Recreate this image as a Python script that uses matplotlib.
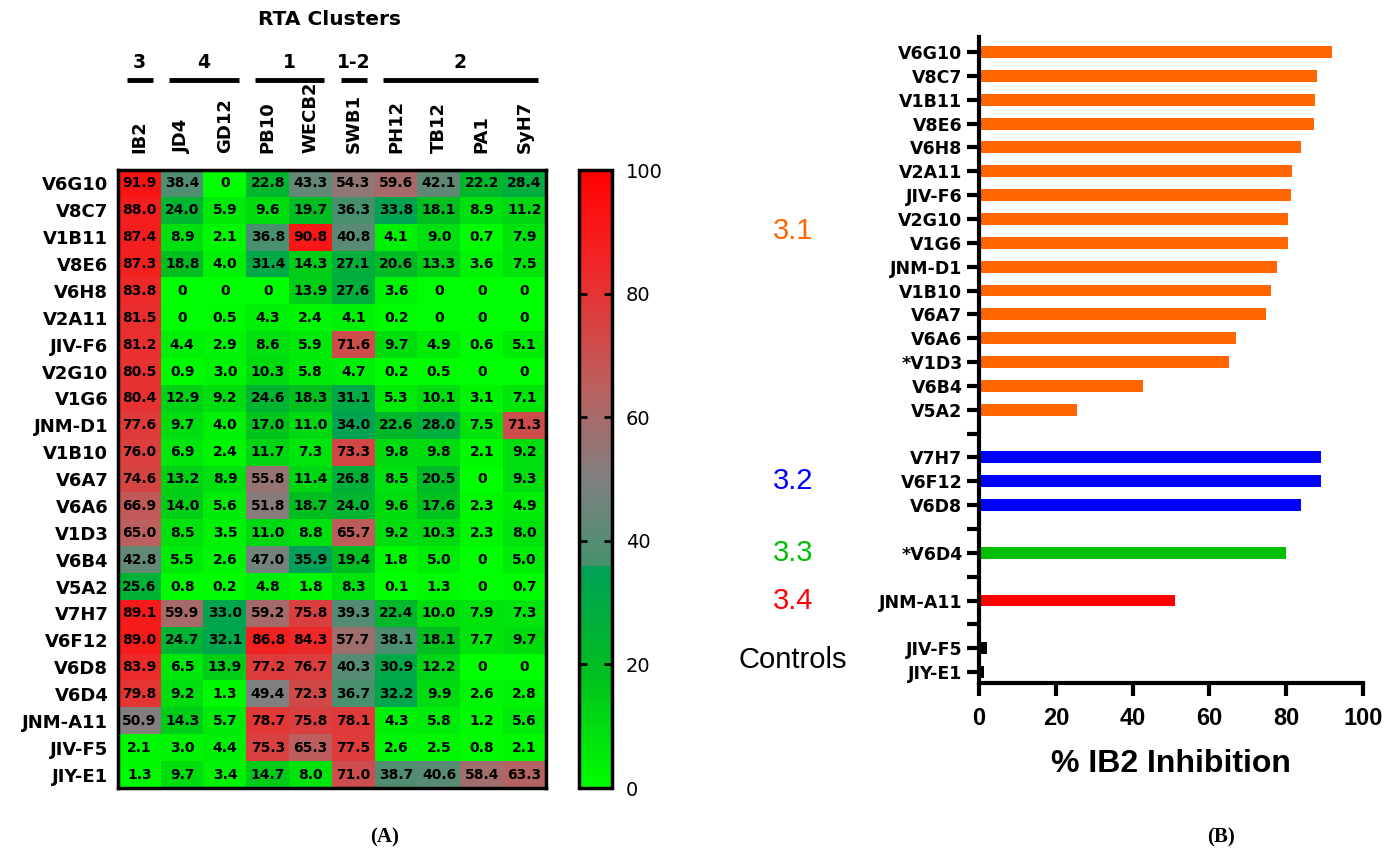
import numpy as np
import matplotlib.pyplot as plt
import matplotlib.transforms as mtransforms
from matplotlib.colors import LinearSegmentedColormap

# -------------------------------
# Datos
# -------------------------------
anticuerpos = ["V6G10", "V8C7", "V1B11", "V8E6", "V6H8", "V2A11", "JIV-F6",
               "V2G10", "V1G6", "JNM-D1", "V1B10", "V6A7", "V6A6", "V1D3",
               "V6B4", "V5A2", "V7H7", "V6F12", "V6D8", "V6D4", "JNM-A11",
               "JIV-F5", "JIY-E1"]
toxinas = ["IB2", "JD4", "GD12", "PB10", "WECB2", "SWB1", "PH12", "TB12", "PA1", "SyH7"]

# inhibicion (%) por fila
inhibicion = np.array([
    [91.9, 38.4, 0.0, 22.8, 43.3, 54.3, 59.6, 42.1, 22.2, 28.4],
    [88.0, 24.0, 5.9, 9.6, 19.7, 36.3, 33.8, 18.1, 8.9, 11.2],
    [87.4, 8.9, 2.1, 36.8, 90.8, 40.8, 4.1, 9.0, 0.7, 7.9],
    [87.3, 18.8, 4.0, 31.4, 14.3, 27.1, 20.6, 13.3, 3.6, 7.5],
    [83.8, 0.0, 0.0, 0.0, 13.9, 27.6, 3.6, 0.0, 0.0, 0.0],
    [81.5, 0.0, 0.5, 4.3, 2.4, 4.1, 0.2, 0.0, 0.0, 0.0],
    [81.2, 4.4, 2.9, 8.6, 5.9, 71.6, 9.7, 4.9, 0.6, 5.1],
    [80.5, 0.9, 3.0, 10.3, 5.8, 4.7, 0.2, 0.5, 0.0, 0.0],
    [80.4, 12.9, 9.2, 24.6, 18.3, 31.1, 5.3, 10.1, 3.1, 7.1],
    [77.6, 9.7, 4.0, 17.0, 11.0, 34.0, 22.6, 28.0, 7.5, 71.3],
    [76.0, 6.9, 2.4, 11.7, 7.3, 73.3, 9.8, 9.8, 2.1, 9.2],
    [74.6, 13.2, 8.9, 55.8, 11.4, 26.8, 8.5, 20.5, 0.0, 9.3],
    [66.9, 14.0, 5.6, 51.8, 18.7, 24.0, 9.6, 17.6, 2.3, 4.9],
    [65.0, 8.5, 3.5, 11.0, 8.8, 65.7, 9.2, 10.3, 2.3, 8.0],
    [42.8, 5.5, 2.6, 47.0, 35.9, 19.4, 1.8, 5.0, 0.0, 5.0],
    [25.6, 0.8, 0.2, 4.8, 1.8, 8.3, 0.1, 1.3, 0.0, 0.7],
    [89.1, 59.9, 33.0, 59.2, 75.8, 39.3, 22.4, 10.0, 7.9, 7.3],
    [89.0, 24.7, 32.1, 86.8, 84.3, 57.7, 38.1, 18.1, 7.7, 9.7],
    [83.9, 6.5, 13.9, 77.2, 76.7, 40.3, 30.9, 12.2, 0.0, 0.0],
    [79.8, 9.2, 1.3, 49.4, 72.3, 36.7, 32.2, 9.9, 2.6, 2.8],
    [50.9, 14.3, 5.7, 78.7, 75.8, 78.1, 4.3, 5.8, 1.2, 5.6],
    [2.1, 3.0, 4.4, 75.3, 65.3, 77.5, 2.6, 2.5, 0.8, 2.1],
    [1.3, 9.7, 3.4, 14.7, 8.0, 71.0, 38.7, 40.6, 58.4, 63.3],
])

# clusters RTA (etiqueta, primera columna, ultima columna)
clusters = [("3", 0, 0), ("4", 1, 2), ("1", 3, 4), ("1-2", 5, 5), ("2", 6, 9)]

# panel B: grupos
grupos = ["3.1", "3.2", "3.3", "3.4", "Controls"]
grupo_tam = [16, 3, 1, 1, 2]
grupo_color = ["#FF6600", "#0000FF", "#00BF00", "#FF0000", "#000000"]
etiquetas_b = ["V6G10", "V8C7", "V1B11", "V8E6", "V6H8", "V2A11", "JIV-F6",
               "V2G10", "V1G6", "JNM-D1", "V1B10", "V6A7", "V6A6", "*V1D3",
               "V6B4", "V5A2", "V7H7", "V6F12", "V6D8", "*V6D4", "JNM-A11",
               "JIV-F5", "JIY-E1"]
ib2 = inhibicion[:, 0]

# -------------------------------
# Mapa de color verde -> gris -> rojo
# -------------------------------
nodos = [(0.00, (0 / 255, 255 / 255, 0 / 255)),
         (0.18, (0 / 255, 192 / 255, 30 / 255)),
         (0.36, (0 / 255, 160 / 255, 88 / 255)),
         (0.36, (70 / 255, 145 / 255, 110 / 255)),
         (0.50, (128 / 255, 128 / 255, 128 / 255)),
         (0.65, (188 / 255, 95 / 255, 95 / 255)),
         (0.80, (230 / 255, 52 / 255, 52 / 255)),
         (0.90, (248 / 255, 25 / 255, 25 / 255)),
         (1.00, (255 / 255, 0 / 255, 0 / 255))]
cmap = LinearSegmentedColormap.from_list("rta", nodos, N=512)

plt.rcParams['font.family'] = ['DejaVu Sans']

fig = plt.figure(figsize=(13.84, 8.51), dpi=100)

# -------------------------------
# Panel A: heatmap
# -------------------------------
ax = fig.add_axes([0.0853, 0.074, 0.3092, 0.7262])
im = ax.imshow(inhibicion, cmap=cmap, vmin=0, vmax=100, aspect='auto',
               interpolation='nearest')

for i in range(inhibicion.shape[0]):
    for j in range(inhibicion.shape[1]):
        v = inhibicion[i, j]
        txt = "0" if v == 0 else f"{v:.1f}"
        ax.text(j, i, txt, ha='center', va='center', fontsize=10,
                fontweight='bold', color='black')

ax.set_yticks(range(len(anticuerpos)))
ax.set_yticklabels(anticuerpos, fontsize=13, fontweight='bold')
ax.set_xticks(range(len(toxinas)))
ax.xaxis.tick_top()
ax.set_xticklabels(toxinas, rotation=90, fontsize=13, fontweight='bold')
ax.tick_params(length=0)
ax.tick_params(axis='y', pad=7)
ax.tick_params(axis='x', pad=12)
for s in ax.spines.values():
    s.set_linewidth(2.5)

trans = mtransforms.blended_transform_factory(ax.transData, ax.transAxes)
for nombre, c0, c1 in clusters:
    ax.plot([c0 - 0.3, c1 + 0.32], [1.146, 1.146], color='black', lw=3.5,
            transform=trans, clip_on=False, solid_capstyle='butt')
    ax.text((c0 + c1) / 2, 1.158, nombre, transform=trans, ha='center',
            va='bottom', fontsize=13.5, fontweight='bold')
ax.text(0.495, 1.243, "RTA Clusters", transform=ax.transAxes, ha='center',
        va='center', fontsize=14.5, fontweight='bold')

# barra de color
cax = fig.add_axes([0.4184, 0.074, 0.0238, 0.7262])
cb = fig.colorbar(im, cax=cax, ticks=[0, 20, 40, 60, 80, 100])
cb.outline.set_linewidth(2.5)
cax.tick_params(direction='in', left=True, right=True, length=6, width=2,
                labelsize=14, pad=10)

# -------------------------------
# Panel B: barras
# -------------------------------
ax2 = fig.add_axes([0.7074, 0.1974, 0.2775, 0.7591])

pos = 0
k = 0
ticks_pos = []
ticks_lab = []
for g, n in enumerate(grupo_tam):
    ys = []
    for _ in range(n):
        ax2.barh(pos, ib2[k], height=0.5, color=grupo_color[g])
        ticks_pos.append(pos)
        ticks_lab.append(etiquetas_b[k])
        ys.append(pos)
        pos += 1
        k += 1
    ax2.text(-0.485, np.mean(ys), grupos[g],
             transform=mtransforms.blended_transform_factory(ax2.transAxes, ax2.transData),
             ha='center', va='center', fontsize=21, color=grupo_color[g],
             family='Liberation Sans')
    if g < len(grupo_tam) - 1:
        ticks_pos.append(pos)
        ticks_lab.append("")
        pos += 1

ax2.set_ylim(pos - 1 + 0.46, -0.63)
ax2.set_xlim(0, 100)
ax2.set_yticks(ticks_pos)
ax2.set_yticklabels(ticks_lab, fontsize=12.5, fontweight='bold')
ax2.set_xticks([0, 20, 40, 60, 80, 100])
ax2.set_xticklabels(["0", "20", "40", "60", "80", "100"],
                    family='Liberation Sans', fontsize=17, fontweight='bold')
ax2.tick_params(axis='y', length=9, width=3, pad=3)
ax2.tick_params(axis='x', length=9, width=3, pad=8)
ax2.spines['top'].set_visible(False)
ax2.spines['right'].set_visible(False)
ax2.spines['left'].set_linewidth(3)
ax2.spines['bottom'].set_linewidth(3)
ax2.set_xlabel("% IB2 Inhibition", family='Liberation Sans', fontsize=23,
               fontweight='bold', labelpad=14)

# etiquetas de panel
fig.text(0.278, 0.016, "(A)", ha='center', va='center', fontsize=15,
         fontweight='bold', family='Liberation Serif')
fig.text(0.882, 0.016, "(B)", ha='center', va='center', fontsize=15,
         fontweight='bold', family='Liberation Serif')

fig.savefig("out.png", dpi=100, facecolor='white')
